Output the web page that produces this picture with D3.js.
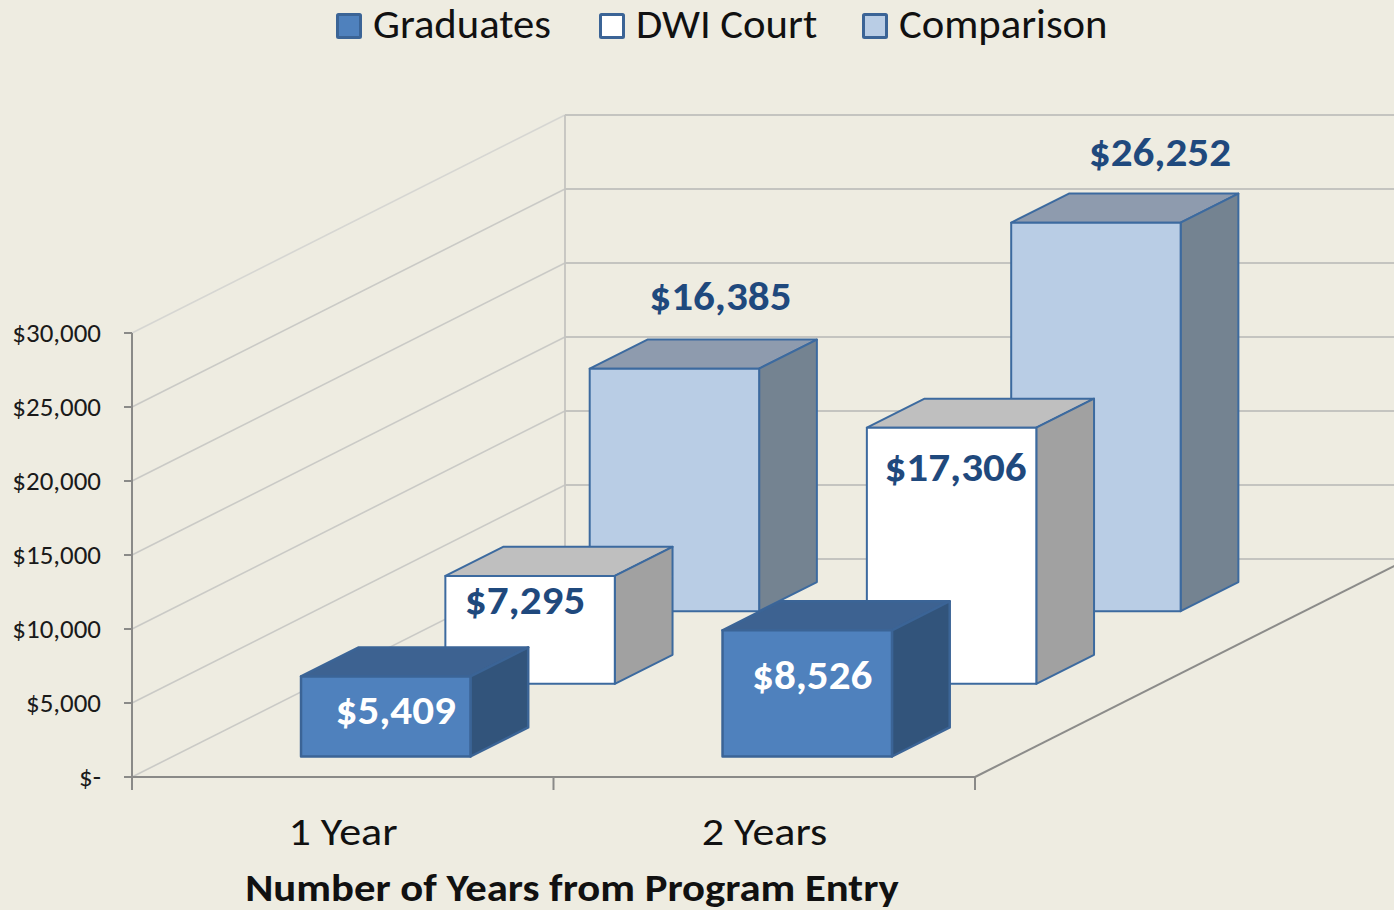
<!DOCTYPE html>
<html><head><meta charset="utf-8">
<script src="https://cdn.jsdelivr.net/npm/d3@7"></script>
<style>html,body{margin:0;padding:0;background:#eeece1;overflow:hidden}svg{display:block}text{font-family:Carlito,Calibri,Lato,sans-serif}</style>
</head><body><svg id="c" width="1394" height="910"></svg>
<script>
const years = ["1 Year", "2 Years"];
const seriesNames = ["Graduates", "DWI Court", "Comparison"];
const graduates = [5409, 8526];
const dwiCourt = [7295, 17306];
const comparison = [16385, 26252];
const yTicks = [0, 5000, 10000, 15000, 20000, 25000, 30000];
const yTickLabels = ["$-", "$5,000", "$10,000", "$15,000", "$20,000", "$25,000", "$30,000"];
const axisTitle = "Number of Years from Program Entry";

const values = [graduates, dwiCourt, comparison];
const styles = [
  {front:"#4f81bd", top:"#3d6291", side:"#32547b", stroke:"#3b6496", sw:2.5, text:"#ffffff"},
  {front:"#ffffff", top:"#bfbfbf", side:"#a1a1a1", stroke:"#3c6a9f", sw:2, text:"#1f497d"},
  {front:"#b9cde5", top:"#8e9bae", side:"#748391", stroke:"#3c6a9f", sw:2, text:"#1f497d"}
];
// label anchor relative to each bar's front-face top centre
const labelOffsets = [
  [[10, 48], [5, 59]],
  [[-5, 38], [4, 53]],
  [[46, -59], [64, -57]]
];

const svg = d3.select("#c");
const x0 = 132, yBase = 777, wallDx = 433, wallDy = 218;
const x = d3.scaleBand().domain(years).range([2.3, 845.3]).paddingInner(0.598).paddingOuter(0.299);
const y = d3.scaleLinear().domain([0, 30000]).range([yBase, 333]);
const depth = d3.scaleBand().domain(seriesNames).range([-0.006, 0.994]).paddingInner(0.6).paddingOuter(0.3);
const px = (u, d) => x0 + u + d * wallDx;
const py = (v, d) => y(v) - d * wallDy;
const line = d3.line();
// stretch a text horizontally by k (the installed face is taller for its width than the reference's)
const stretch = (sel, k) => sel.each(function () {
  this.setAttribute("lengthAdjust", "spacingAndGlyphs");
  this.setAttribute("textLength", this.getComputedTextLength() * k);
});

// gridlines: side wall and back wall
const grid = svg.append("g").attr("fill", "none");
yTicks.forEach((t, i) => {
  grid.append("path").attr("d", line([[px(0,0), py(t,0)], [px(0,1), py(t,1)]]))
    .attr("stroke", i === 6 ? "#d6d6d2" : "#cacac6").attr("stroke-width", 1.6);
  grid.append("path").attr("d", line([[px(0,1), py(t,1)], [px(843,1), py(t,1)]]))
    .attr("stroke", "#c4c4c0").attr("stroke-width", 1.8);
});
grid.append("path").attr("d", line([[px(0,1), py(0,1)], [px(0,1), py(30000,1)]]))
  .attr("stroke", "#c4c4c0").attr("stroke-width", 1.8);
// floor edge
grid.append("path").attr("d", line([[px(843,0), py(0,0)], [px(843,1), py(0,1)]]))
  .attr("stroke", "#8c8c8a").attr("stroke-width", 2);

// axes
const ax = svg.append("g").attr("fill", "none").attr("stroke", "#8a8a88").attr("stroke-width", 2);
ax.append("path").attr("d", line([[x0, y(30000)], [x0, yBase]]));
ax.append("path").attr("d", line([[x0, yBase], [x0 + 843, yBase]]));
yTicks.forEach(t => ax.append("path").attr("d", line([[x0 - 8, y(t)], [x0, y(t)]])));
[0, 421.5, 843].forEach(u => ax.append("path").attr("d", line([[x0 + u, yBase], [x0 + u, yBase + 13]])));

svg.append("g").selectAll("text").data(yTicks).join("text")
  .attr("x", 101).attr("y", d => y(d) + 9).attr("text-anchor", "end")
  .attr("font-size", 26).attr("fill", "#1a1a1a")
  .text((d, i) => yTickLabels[i]).call(stretch, 1.036);

// bars back to front
const bars = svg.append("g");
[2, 1, 0].forEach(s => {
  years.forEach((yr, c) => {
    const v = values[s][c], st = styles[s];
    const u0 = x(yr), u1 = u0 + x.bandwidth();
    const d0 = depth(seriesNames[s]), d1 = d0 + depth.bandwidth();
    const g = bars.append("g").attr("stroke", st.stroke).attr("stroke-width", st.sw).attr("stroke-linejoin", "round");
    const poly = (pts, fill) => g.append("path").attr("d", line(pts) + "Z").attr("fill", fill);
    poly([[px(u0,d0),py(v,d0)], [px(u1,d0),py(v,d0)], [px(u1,d1),py(v,d1)], [px(u0,d1),py(v,d1)]], st.top);
    poly([[px(u1,d0),py(0,d0)], [px(u1,d0),py(v,d0)], [px(u1,d1),py(v,d1)], [px(u1,d1),py(0,d1)]], st.side);
    poly([[px(u0,d0),py(0,d0)], [px(u1,d0),py(0,d0)], [px(u1,d0),py(v,d0)], [px(u0,d0),py(v,d0)]], st.front);
  });
});
// data labels
const fmt = d3.format("$,");
const labels = svg.append("g");
[2, 1, 0].forEach(s => years.forEach((yr, c) => {
  const v = values[s][c], d0 = depth(seriesNames[s]);
  const o = labelOffsets[s][c];
  labels.append("text")
    .attr("x", px(x(yr) + x.bandwidth() / 2, d0) + o[0])
    .attr("y", py(v, d0) + o[1])
    .attr("text-anchor", "middle").attr("font-size", 40).attr("font-weight", 700)
    .attr("fill", styles[s].text).text(fmt(v)).call(stretch, 1.078);
}));

// category labels
svg.append("g").selectAll("text").data(years).join("text")
  .attr("x", d => x0 + x(d) + x.bandwidth() / 2 - 2).attr("y", 845)
  .attr("text-anchor", "middle").attr("font-size", 39).attr("fill", "#111").text(d => d).call(stretch, 1.13);
svg.append("text").attr("x", 572).attr("y", 901).attr("text-anchor", "middle")
  .attr("font-size", 38).attr("font-weight", 700).attr("fill", "#111").text(axisTitle).call(stretch, 1.124);

// legend
const legX = [336, 599, 862];
const leg = svg.append("g").selectAll("g").data(seriesNames).join("g")
  .attr("transform", (d, i) => `translate(${legX[i]},13)`);
leg.append("rect").attr("x", 1.5).attr("y", 1.5).attr("width", 23).attr("height", 23).attr("rx", 1)
  .attr("fill", (d, i) => styles[i].front).attr("stroke", "#3b6496").attr("stroke-width", 3);
leg.append("text").attr("x", 37).attr("y", 25).attr("font-size", 40).attr("fill", "#111").text(d => d).call(stretch, 1.067);
</script></body></html>
